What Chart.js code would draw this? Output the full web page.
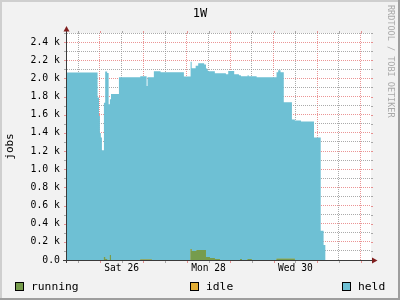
<!DOCTYPE html>
<html>
<head>
<meta charset="utf-8">
<script src="https://cdn.jsdelivr.net/npm/chart.js@4.4.0/dist/chart.umd.min.js"></script>
<style>
  body { margin: 0; background: #F2F2F2; }
  #wrap { position: relative; width: 400px; height: 300px; font-family: "DejaVu Sans Mono", monospace; }
  canvas { position: absolute; left: 0; top: 0; }
  .lg { position: absolute; top: 279px; height: 14px; display: flex; align-items: center; font-size: 11.3px; color: #000; }
  .lg .box { width: 7px; height: 7px; border: 1px solid #000; margin-right: 7px; }
  #wm { position: absolute; left: 386px; top: 5px; writing-mode: vertical-rl; font-size: 8.5px; color: #A9A9A9; line-height: 10px; }
</style>
</head>
<body>
<div id="wrap">
  <canvas id="jobsChart" width="400" height="300"></canvas>
  <div class="lg" style="left:15px"><span class="box" style="background:#769C4D"></span>running</div>
  <div class="lg" style="left:190px"><span class="box" style="background:#E3AE34"></span>idle</div>
  <div class="lg" style="left:342px"><span class="box" style="background:#6EC0D4"></span>held</div>
  <div id="wm">RRDTOOL / TOBI OETIKER</div>
</div>
<script>
// hours since Fri 25 00:00, one entry per step change
const times = [5.8, 22.7, 23.5, 24.0, 24.5, 25.1, 26.2, 26.9, 28.0, 28.8,
    29.5, 30.1, 34.5, 46.3, 49.8, 50.3, 52.7, 53.8, 57.5, 70.4,
    74.1, 74.7, 76.9, 77.4, 78.3, 81.6, 82.6, 83.3, 83.8, 84.8,
    87.5, 90.3, 93.6, 94.9, 98.2, 100.8, 101.4, 101.9, 102.5, 105.6,
    106.2, 107.9, 110.6, 121.6, 122.5, 123.8, 125.6, 130.1, 131.7, 135.1,
    142.3, 146.0, 147.6, 148.7];

const running = [0, 0, 0, 0, 0, 0, 33, 11, 0, 0,
    55, 0, 0, 5, 5, 5, 0, 0, 0, 0,
    122, 100, 100, 111, 111, 111, 33, 33, 33, 22,
    11, 0, 0, 0, 0, 0, 11, 11, 0, 11,
    11, 0, 0, 15, 15, 15, 15, 15, 0, 0,
    0, 0, 0, 0];

const idle = [0, 0, 0, 0, 0, 0, 0, 0, 0, 0,
    0, 0, 0, 0, 0, 0, 0, 0, 0, 0,
    0, 0, 0, 0, 0, 0, 0, 0, 0, 0,
    0, 0, 0, 0, 0, 0, 0, 0, 0, 0,
    0, 0, 0, 0, 0, 0, 0, 0, 0, 0,
    0, 0, 0, 0];

const held = [2065, 1790, 1585, 1400, 1350, 1210, 1700, 2065, 2060, 1714,
    1715, 1828, 2013, 2020, 1912, 2008, 2013, 2079, 2068, 2021,
    2060, 2012, 2038, 2027, 2057, 2042, 2076, 2057, 2046, 2057,
    2046, 2057, 2046, 2082, 2046, 2035, 2024, 2013, 2024, 2024,
    2013, 2024, 2013, 2053, 2075, 2053, 1721, 1533, 1537, 1526,
    1349, 321, 166, 0];

// x grid every 12 h, labelled at noon every other day
const xTicks = [12, 24, 36, 48, 60, 72, 84, 96, 108, 120, 132, 144, 156, 168];
const labelHours = [36, 84, 132];
const dayLabels = ['Sat 26', 'Mon 28', 'Wed 30'];

const yLabels = ['0.0', '0.2 k', '0.4 k', '0.6 k', '0.8 k', '1.0 k', '1.2 k',
    '1.4 k', '1.6 k', '1.8 k', '2.0 k', '2.2 k', '2.4 k'];

const MINOR = 'rgba(143,143,143,0.75)';
const MAJOR = 'rgba(222,79,79,0.6)';

function points(values) {
    return times.map((t, i) => ({ x: t, y: values[i] }));
}

function area(label, values, color) {
    return {
        label: label,
        data: points(values),
        backgroundColor: color,
        borderColor: 'rgba(0,0,0,0)',
        borderWidth: 0,
        pointRadius: 0,
        stepped: true,
        fill: 'origin'
    };
}

// background, frame, axis arrows and the small grid ticks outside the plot
const rrdFrame = {
    id: 'rrdFrame',
    beforeDraw(chart) {
        const { ctx, chartArea: a } = chart;
        ctx.save();
        ctx.fillStyle = '#F2F2F2';
        ctx.fillRect(0, 0, chart.width, chart.height);
        ctx.fillStyle = '#FFFFFF';
        ctx.fillRect(a.left, a.top, a.right - a.left, a.bottom - a.top);
        ctx.restore();
    },
    afterDraw(chart) {
        const { ctx, chartArea: a } = chart;
        const xs = chart.scales.x, ys = chart.scales.y;
        ctx.save();
        ctx.lineWidth = 1;
        xs.ticks.forEach(t => {
            const px = Math.round(xs.getPixelForValue(t.value)) + 0.5;
            ctx.strokeStyle = t.value % 24 === 0 ? MAJOR : MINOR;
            ctx.beginPath();
            ctx.moveTo(px, a.top - 2); ctx.lineTo(px, a.top);
            ctx.moveTo(px, a.bottom); ctx.lineTo(px, a.bottom + 3);
            ctx.stroke();
        });
        ys.ticks.forEach(t => {
            const py = Math.round(ys.getPixelForValue(t.value)) + 0.5;
            ctx.strokeStyle = t.value % 200 === 0 ? MAJOR : MINOR;
            ctx.beginPath();
            ctx.moveTo(a.left - 3, py); ctx.lineTo(a.left, py);
            ctx.moveTo(a.right, py); ctx.lineTo(a.right + 2, py);
            ctx.stroke();
        });

        // axes
        ctx.strokeStyle = '#3A3A3A';
        ctx.beginPath();
        ctx.moveTo(a.left - 4, a.bottom + 0.5); ctx.lineTo(a.right + 2, a.bottom + 0.5);
        ctx.moveTo(a.left - 0.5, a.bottom + 3); ctx.lineTo(a.left - 0.5, a.top - 2);
        ctx.stroke();

        // arrows
        ctx.fillStyle = '#801F1F';
        ctx.beginPath();
        ctx.moveTo(a.right + 1, a.bottom - 2.5);
        ctx.lineTo(a.right + 6.5, a.bottom + 0.5);
        ctx.lineTo(a.right + 1, a.bottom + 3.5);
        ctx.closePath();
        ctx.fill();
        ctx.beginPath();
        ctx.moveTo(a.left - 3.5, a.top - 1.5);
        ctx.lineTo(a.left - 0.5, a.top - 7);
        ctx.lineTo(a.left + 2.5, a.top - 1.5);
        ctx.closePath();
        ctx.fill();

        // 3d frame
        ctx.fillStyle = '#CFCFCF';
        ctx.fillRect(0, 0, chart.width, 2);
        ctx.fillRect(0, 0, 2, chart.height);
        ctx.fillStyle = '#9E9E9E';
        ctx.fillRect(0, chart.height - 2, chart.width, 2);
        ctx.fillRect(chart.width - 2, 0, 2, chart.height);
        ctx.restore();
    }
};

Chart.defaults.font.family = '"DejaVu Sans Mono", monospace';
Chart.defaults.color = '#000';

const jobsCtx = document.getElementById('jobsChart').getContext('2d');
const jobsChart = new Chart(jobsCtx, {
    type: 'line',
    data: {
        datasets: [
            area('running', running, '#769C4D'),
            area('idle', idle, '#E3AE34'),
            area('held', held, '#6EC0D4')
        ]
    },
    options: {
        responsive: false,
        animation: false,
        layout: { padding: 0 },
        plugins: {
            legend: { display: false },
            tooltip: { enabled: false },
            title: {
                display: true,
                text: '1W',
                font: { size: 12, weight: 'normal' },
                color: '#000',
                padding: { top: 7, bottom: 11.6 }
            }
        },
        scales: {
            x: {
                type: 'linear',
                min: 5.8,
                max: 173.8,
                z: 1,
                afterBuildTicks: (scale) => {
                    scale.ticks = xTicks.map(v => ({ value: v }));
                },
                afterFit: (scale) => { scale.height = 40; },
                grid: {
                    color: (c) => (c.tick && c.tick.value % 24 === 0) ? MAJOR : MINOR,
                    lineWidth: 1,
                    drawTicks: false
                },
                border: { display: false, dash: [1, 1] },
                ticks: {
                    autoSkip: false,
                    maxRotation: 0,
                    padding: 3,
                    font: { size: 9.6 },
                    callback: (value) => {
                        const i = labelHours.indexOf(value);
                        return i >= 0 ? dayLabels[i] : '';
                    }
                }
            },
            y: {
                stacked: true,
                min: 0,
                max: 2500,
                z: 1,
                afterBuildTicks: (scale) => {
                    const ticks = [];
                    for (let v = 0; v <= 2500; v += 100) ticks.push({ value: v });
                    scale.ticks = ticks;
                },
                afterFit: (scale) => { scale.width = 67; },
                grid: {
                    color: (c) => (c.tick && c.tick.value % 200 === 0) ? MAJOR : MINOR,
                    lineWidth: 1,
                    drawTicks: false
                },
                border: { display: false, dash: [1, 1] },
                title: {
                    display: true,
                    text: 'jobs',
                    font: { size: 11 },
                    color: '#000'
                },
                ticks: {
                    autoSkip: false,
                    padding: 7,
                    font: { size: 9.8 },
                    callback: (value) => (value % 200 === 0) ? yLabels[value / 200] : ''
                }
            },
            // empty right-hand strip that keeps room for the watermark
            yR: {
                position: 'right',
                display: true,
                grid: { display: false, drawTicks: false },
                border: { display: false },
                ticks: { display: false },
                afterFit: (scale) => { scale.width = 29; }
            }
        }
    },
    plugins: [rrdFrame]
});
</script>
</body>
</html>
